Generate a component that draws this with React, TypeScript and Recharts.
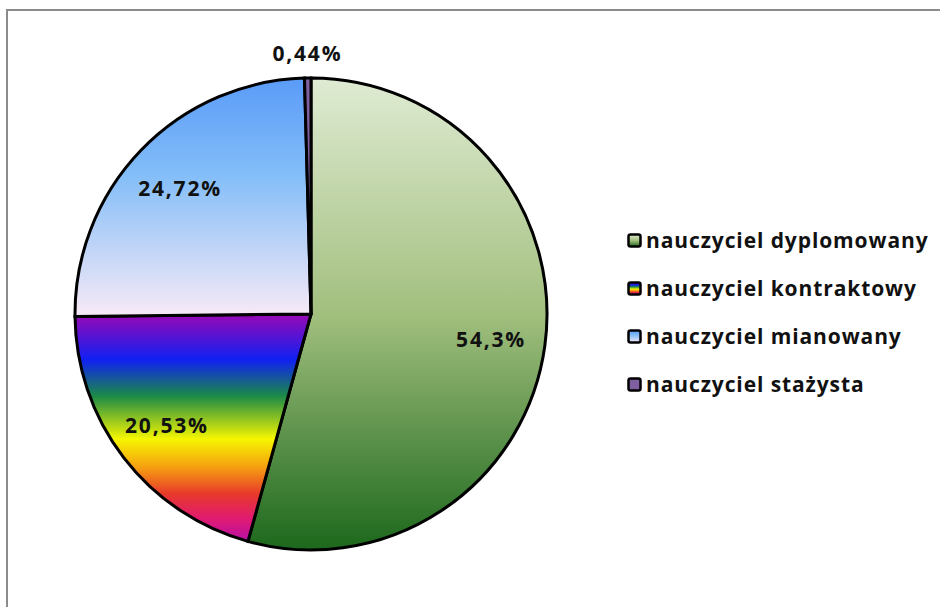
import { PieChart, Pie, Cell, Legend } from 'recharts';

const categories = [
  'nauczyciel dyplomowany',
  'nauczyciel kontraktowy',
  'nauczyciel mianowany',
  'nauczyciel stażysta',
];
const shares = [54.3, 20.53, 24.72, 0.44];
const fills = ['url(#gDyp)', 'url(#gKon)', 'url(#gMia)', '#7f5fa0'];

const data = categories.map((name, i) => ({ name, value: shares[i] }));

const FONT = '"Open Sans", sans-serif';
const RAD = Math.PI / 180;

const renderLabel = (p: any) => {
  const { cx, cy, midAngle, outerRadius, value } = p;
  const r = value < 2 ? outerRadius + 25 : outerRadius * 0.77;
  const x = cx + r * Math.cos(-midAngle * RAD);
  const y = cy + r * Math.sin(-midAngle * RAD);
  return (
    <text
      x={x}
      y={y}
      textAnchor="middle"
      dominantBaseline="central"
      fontFamily={FONT}
      fontWeight={700}
      fontSize={21}
      letterSpacing={1.8}
      fill="#111"
    >
      {String(value).replace('.', ',') + '%'}
    </text>
  );
};

const renderLegend = () => (
  <div style={{ fontFamily: FONT, fontWeight: 700, fontSize: 21, letterSpacing: 0.9, color: '#111' }}>
    {categories.map((c, i) => (
      <div key={c} style={{ display: 'flex', alignItems: 'center', height: 48 }}>
        <svg width={15} height={15} style={{ marginRight: 4 }}>
          <rect x={1.5} y={1.5} width={12} height={12} rx={2} fill={fills[i]} stroke="#000" strokeWidth={2.5} />
        </svg>
        <span>{c}</span>
      </div>
    ))}
  </div>
);

export default function App() {
  return (
    <div style={{ position: 'fixed', left: 0, top: 0, width: 940, height: 607, overflow: 'hidden', background: '#fff' }}>
      <div
        style={{
          position: 'absolute',
          left: 6,
          top: 9,
          width: 980,
          height: 640,
          border: '2px solid #8c8c8c',
        }}
      />
      <div style={{ position: 'absolute', left: 0, top: 0 }}>
        <PieChart width={940} height={607}>
          <defs>
            <linearGradient id="gDyp" x1="0" y1="0" x2="0" y2="1">
              <stop offset="0%" stopColor="#dfebd3" />
              <stop offset="50%" stopColor="#a2bf7e" />
              <stop offset="100%" stopColor="#1c681c" />
            </linearGradient>
            <linearGradient id="gKon" x1="0" y1="0" x2="0" y2="1">
              <stop offset="0%" stopColor="#9a08b4" />
              <stop offset="20%" stopColor="#1020f2" />
              <stop offset="36%" stopColor="#1a8a48" />
              <stop offset="55%" stopColor="#f6f600" />
              <stop offset="68%" stopColor="#f59a12" />
              <stop offset="79%" stopColor="#e83a2a" />
              <stop offset="90%" stopColor="#e01a70" />
              <stop offset="100%" stopColor="#b810a8" />
            </linearGradient>
            <linearGradient id="gMia" x1="0" y1="0" x2="0" y2="1">
              <stop offset="0%" stopColor="#5a9bf8" />
              <stop offset="40%" stopColor="#82bdf8" />
              <stop offset="100%" stopColor="#f8eaf6" />
            </linearGradient>
          </defs>
          <Pie
            data={data}
            dataKey="value"
            nameKey="name"
            cx={306}
            cy={309}
            outerRadius={236}
            startAngle={90}
            endAngle={-270}
            stroke="#000"
            strokeWidth={3}
            label={renderLabel}
            labelLine={false}
            isAnimationActive={false}
          >
            {data.map((d, i) => (
              <Cell key={d.name} fill={fills[i]} />
            ))}
          </Pie>
          <Legend
            content={renderLegend}
            wrapperStyle={{ left: 627, top: 216, width: 320 }}
          />
        </PieChart>
      </div>
    </div>
  );
}
